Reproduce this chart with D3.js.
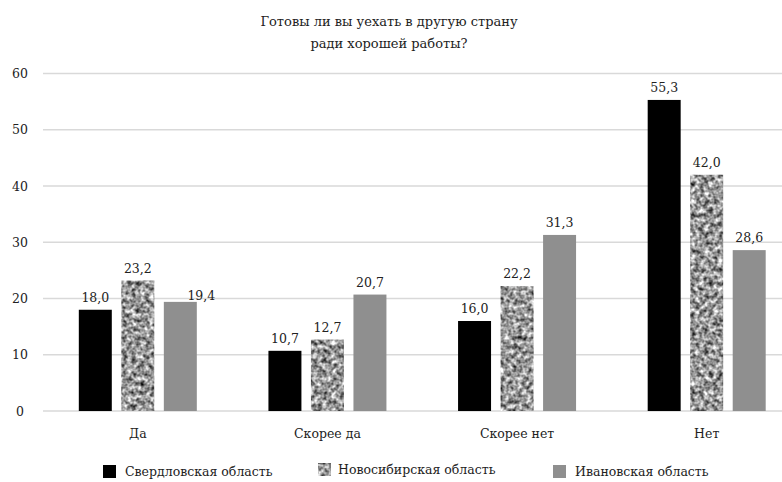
<!DOCTYPE html>
<html><head><meta charset="utf-8">
<script src="https://cdn.jsdelivr.net/npm/d3@7"></script>
<style>body{margin:0;background:#fff}svg{display:block}text{font-family:"DejaVu Serif",serif;fill:#222}</style>
</head><body>
<script>
const categories = ["Да", "Скорее да", "Скорее нет", "Нет"];
const seriesNames = ["Свердловская область", "Новосибирская область", "Ивановская область"];
const sverdlovsk = [18.0, 10.7, 16.0, 55.3];
const novosibirsk = [23.2, 12.7, 22.2, 42.0];
const ivanovo = [19.4, 20.7, 31.3, 28.6];
const yTicks = [0, 10, 20, 30, 40, 50, 60];
const titleLines = ["Готовы ли вы уехать в другую страну", "ради хорошей работы?"];

const W = 782, H = 482;
const FS = 12.5;
const svg = d3.select("body").append("svg").attr("width", W).attr("height", H);
const defs = svg.append("defs");
const f = defs.append("filter").attr("id", "granite").attr("x", 0).attr("y", 0).attr("width", 1).attr("height", 1)
  .attr("color-interpolation-filters", "sRGB");
f.append("feTurbulence").attr("type", "fractalNoise").attr("baseFrequency", 0.22).attr("numOctaves", 2).attr("seed", 7).attr("result", "n");
f.append("feColorMatrix").attr("in", "n").attr("type", "matrix")
  .attr("values", "1.45 0 0 0 -0.13  1.45 0 0 0 -0.13  1.45 0 0 0 -0.13  0 0 0 0 1").attr("result", "g");
f.append("feComposite").attr("in", "g").attr("in2", "SourceGraphic").attr("operator", "in");

const series = [
  {name: seriesNames[0], values: sverdlovsk, fill: "#000"},
  {name: seriesNames[1], values: novosibirsk, fill: "#999", filter: "url(#granite)"},
  {name: seriesNames[2], values: ivanovo, fill: "#8f8f8f"}
];

const groupW = 118;
const x0 = d3.scaleBand().domain(categories).range([43, 801.5]).paddingInner(0).paddingOuter(0);
const x1 = d3.scaleBand().domain(d3.range(3)).range([0, groupW]).paddingInner(0.224).paddingOuter(0);
const gOff = (x0.bandwidth() - groupW) / 2;
const y = d3.scaleLinear().domain([0, 60]).range([411, 73.5]);

svg.append("g").selectAll("text").data(titleLines).join("text")
  .attr("x", 389).attr("y", (d, i) => 26 + i * 21.5).attr("text-anchor", "middle")
  .style("font-size", "13px").text(d => d);

const grid = svg.append("g");
grid.selectAll("line").data(yTicks).join("line")
  .attr("x1", 43).attr("x2", W).attr("y1", d => y(d)).attr("y2", d => y(d))
  .attr("stroke", "#d9d9d9").attr("stroke-width", 1.5);

const yAxis = svg.append("g").attr("transform", "translate(36,0)")
  .call(d3.axisLeft(y).tickValues(yTicks).tickSize(0).tickPadding(0));
yAxis.select(".domain").remove();
yAxis.selectAll("text").attr("text-anchor", "middle").attr("dx", -16).style("font-size", FS + "px").attr("fill", "#222");

const xAxis = svg.append("g").attr("transform", "translate(0,424)")
  .call(d3.axisBottom(x0).tickSize(0).tickPadding(5));
xAxis.select(".domain").remove();
xAxis.selectAll("text").style("font-size", FS + "px").attr("fill", "#222");

series.forEach((s, si) => {
  const g = svg.append("g");
  g.selectAll("rect").data(s.values).join("rect")
    .attr("x", (d, i) => x0(categories[i]) + gOff + x1(si))
    .attr("width", x1.bandwidth())
    .attr("y", d => y(d)).attr("height", d => y(0) - y(d))
    .attr("fill", s.fill).attr("filter", s.filter || null);
  g.selectAll("text").data(s.values).join("text")
    .attr("x", (d, i) => x0(categories[i]) + gOff + x1(si) + x1.bandwidth() / 2 + (si === 2 && i === 0 ? 21 : 0))
    .attr("y", (d, i) => y(d) - 8 + (si === 2 && i === 0 ? 6 : 0))
    .attr("text-anchor", "middle").style("font-size", FS + "px")
    .text(d => d.toFixed(1).replace(".", ","));
});

const legX = [103, 318, 553];
const leg = svg.append("g").selectAll("g").data(series).join("g")
  .attr("transform", (d, i) => `translate(${legX[i]},465)`);
leg.append("rect").attr("width", 13).attr("height", 13).attr("fill", d => d.fill).attr("filter", d => d.filter || null)
  .attr("y", (d, i) => i === 1 ? -2 : 0);
leg.append("text").attr("x", (d, i) => i === 1 ? 20 : 22).attr("y", (d, i) => i === 1 ? 9 : 11).style("font-size", FS + "px").text(d => d.name);
</script>
</body></html>
